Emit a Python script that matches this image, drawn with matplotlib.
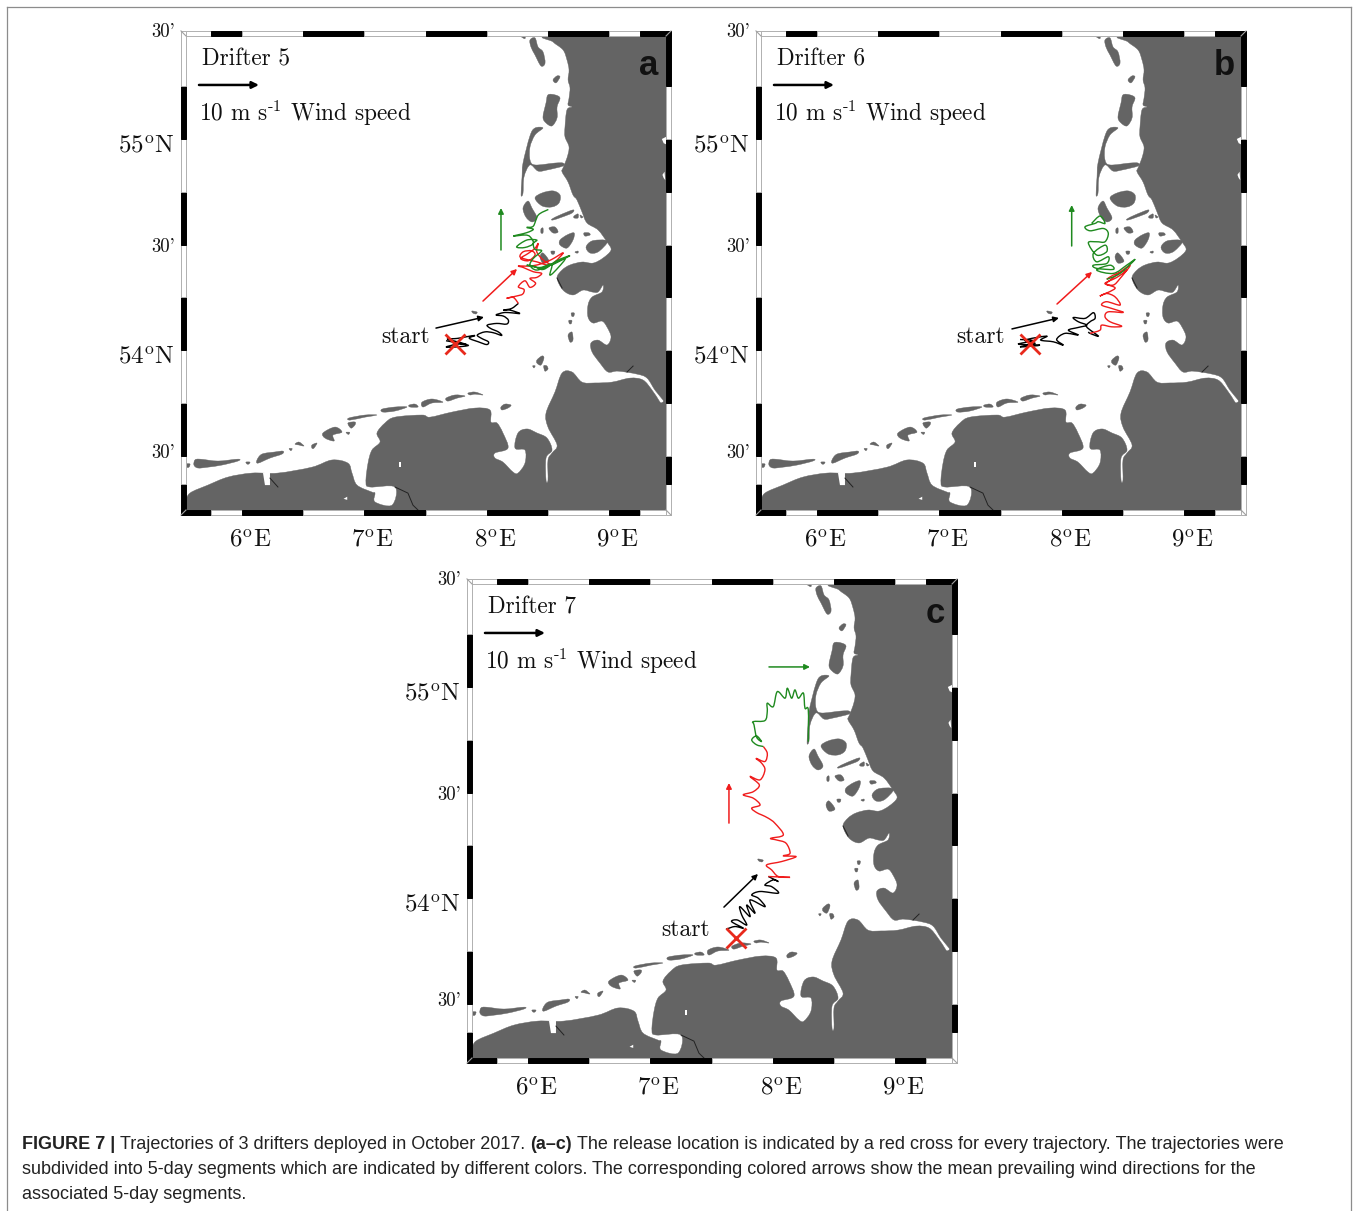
import matplotlib
matplotlib.use('Agg')
import matplotlib.pyplot as plt
from matplotlib.patches import Rectangle, PathPatch
from matplotlib.path import Path
from matplotlib.lines import Line2D

plt.rcParams['mathtext.fontset'] = 'cm'
plt.rcParams['axes.unicode_minus'] = False

# coast, digitised in degrees east / north
north_coast = [(8.517,55.488),(8.541,55.460),(8.623,55.422),(8.655,55.375),(8.672,55.327),(8.664,55.280),(8.680,55.242),
    (8.672,55.194),(8.664,55.161),(8.696,55.152),(8.655,55.138),(8.639,55.057),(8.639,55.010),(8.672,54.962),(8.655,54.910),
    (8.623,54.863),(8.615,54.844),(8.664,54.796),(8.704,54.735),(8.737,54.711),(8.778,54.654),(8.819,54.602),(8.909,54.569),
    (8.982,54.512),(9.015,54.474),(8.950,54.436),(8.868,54.412),(8.778,54.417),(8.680,54.403),(8.615,54.379),(8.574,54.341),
    (8.623,54.284),(8.704,54.261),(8.786,54.284),(8.860,54.275),(8.909,54.275),(8.950,54.308),(8.941,54.275),(8.860,54.251),
    (8.827,54.213),(8.827,54.156),(8.868,54.128),(8.941,54.137),(8.982,54.109),(9.015,54.062),(8.982,54.024),(8.909,54.047),
    (8.851,54.033),(8.860,53.991),(8.925,53.938),(8.990,53.896),(9.072,53.900),(9.227,53.886),(9.309,53.867),(9.374,53.810),
    (9.440,53.763),(9.464,53.739),(9.464,55.488)]
south_coast = [(9.464,53.706),(9.415,53.753),(9.350,53.810),(9.276,53.858),(9.170,53.867),(9.023,53.848),(8.884,53.844),(8.778,53.848),
    (8.696,53.896),(8.615,53.891),(8.557,53.801),(8.484,53.701),(8.500,53.635),(8.574,53.550),(8.533,53.512),(8.500,53.479),
    (8.500,53.384),(8.484,53.384),(8.484,53.488),(8.533,53.526),(8.492,53.583),(8.410,53.607),(8.329,53.626),(8.255,53.607),
    (8.231,53.535),(8.312,53.526),(8.312,53.464),(8.255,53.417),(8.214,53.422),(8.132,53.469),(8.067,53.488),(8.067,53.512),
    (8.173,53.535),(8.132,53.607),(8.084,53.654),(8.034,53.659),(8.026,53.716),(7.904,53.725),(7.716,53.706),(7.536,53.682),
    (7.471,53.692),(7.250,53.682),(7.168,53.654),(7.103,53.607),(7.128,53.564),(7.062,53.526),(7.030,53.464),(7.013,53.374),
    (7.046,53.351),(7.250,53.351),(7.226,53.265),(7.087,53.280),(7.087,53.322),(7.062,53.327),(6.940,53.360),(6.899,53.417),
    (6.866,53.464),(6.735,53.479),(6.572,53.445),(6.294,53.417),(6.082,53.417),(5.886,53.398),(5.722,53.360),(5.575,53.322),
    (5.543,53.280),(5.543,53.242),(9.464,53.242)]
islands = [
    [(5.543,53.460),(5.575,53.460),(5.567,53.445),(5.543,53.445)],
    [(5.616,53.479),(5.657,53.483),(5.804,53.474),(5.967,53.483),(5.967,53.474),(5.837,53.455),(5.722,53.445),(5.641,53.441),(5.608,53.455)],
    [(6.033,53.469),(6.065,53.469),(6.057,53.460),(6.041,53.460)],
    [(6.123,53.479),(6.164,53.507),(6.270,53.517),(6.335,53.521),(6.327,53.507),(6.229,53.488),(6.131,53.464)],
    [(6.385,53.533),(6.410,53.533),(6.400,53.523)],
    [(6.433,53.554),(6.466,53.564),(6.507,53.545),(6.466,53.550)],
    [(6.572,53.550),(6.613,53.559),(6.588,53.535),(6.572,53.535)],
    [(6.662,53.607),(6.760,53.635),(6.817,53.611),(6.744,53.597),(6.752,53.569),(6.678,53.583)],
    [(6.850,53.610),(6.880,53.610),(6.870,53.600)],
    [(6.866,53.654),(6.923,53.659),(6.923,53.645),(6.891,53.630)],
    [(6.874,53.678),(7.005,53.692),(7.103,53.692),(7.005,53.682),(6.883,53.668)],
    [(7.144,53.720),(7.250,53.730),(7.348,53.730),(7.250,53.711),(7.152,53.706)],
    [(7.365,53.739),(7.414,53.744),(7.438,53.730),(7.373,53.730)],
    [(7.471,53.753),(7.552,53.768),(7.642,53.753),(7.552,53.749),(7.479,53.730)],
    [(7.667,53.772),(7.740,53.787),(7.822,53.782),(7.757,53.772),(7.683,53.758)],
    [(7.847,53.796),(7.904,53.801),(7.969,53.787),(7.904,53.791),(7.863,53.787)],
    [(8.116,53.730),(8.149,53.744),(8.198,53.739),(8.173,53.725),(8.124,53.716)],
    [(7.879,54.185),(7.920,54.180),(7.912,54.171),(7.887,54.175)],
    [(8.690,54.175),(8.715,54.175),(8.710,54.160),(8.695,54.160)],
    [(8.670,54.140),(8.695,54.140),(8.690,54.125),(8.675,54.125)],
    [(8.664,54.071),(8.696,54.085),(8.704,54.047),(8.680,54.038)],
    [(8.410,53.953),(8.451,53.972),(8.467,53.962),(8.443,53.929),(8.410,53.938)],
    [(8.465,53.925),(8.490,53.925),(8.500,53.910),(8.475,53.900)],
    [(8.375,53.925),(8.395,53.925),(8.385,53.915)],
    [(8.270,55.490),(8.310,55.490),(8.310,55.475)],
    [(8.353,55.469),(8.394,55.479),(8.419,55.436),(8.459,55.413),(8.476,55.360),(8.443,55.346),(8.394,55.398),(8.361,55.436)],
    [(8.541,55.280),(8.574,55.299),(8.598,55.294),(8.566,55.266)],
    [(8.500,55.209),(8.557,55.209),(8.598,55.194),(8.574,55.152),(8.574,55.100),(8.533,55.062),(8.484,55.076),(8.459,55.104),(8.484,55.171)],
    [(8.394,55.052),(8.459,55.052),(8.394,55.019),(8.353,54.962),(8.353,54.901),(8.394,54.877),(8.557,54.886),(8.623,54.886),(8.623,54.872),
     (8.492,54.853),(8.419,54.848),(8.353,54.877),(8.304,54.820),(8.296,54.744),(8.280,54.735),(8.288,54.820),(8.296,54.886),(8.353,55.015)],
    [(8.394,54.720),(8.451,54.744),(8.541,54.754),(8.598,54.735),(8.590,54.697),(8.533,54.678),(8.451,54.683)],
    [(8.296,54.673),(8.337,54.706),(8.369,54.673),(8.410,54.626),(8.369,54.607),(8.320,54.630)],
    [(8.533,54.621),(8.598,54.640),(8.704,54.664),(8.696,54.649),(8.615,54.630),(8.541,54.616)],
    [(8.713,54.635),(8.745,54.645),(8.745,54.626),(8.713,54.626)],
    [(8.762,54.640),(8.786,54.630),(8.770,54.626)],
    [(8.443,54.574),(8.459,54.578),(8.459,54.555),(8.443,54.555)],
    [(8.508,54.578),(8.557,54.583),(8.582,54.559),(8.541,54.555)],
    [(8.598,54.521),(8.655,54.545),(8.713,54.555),(8.704,54.521),(8.655,54.483),(8.598,54.498)],
    [(8.794,54.555),(8.835,54.555),(8.843,54.545),(8.802,54.540)],
    [(8.811,54.488),(8.860,54.517),(8.966,54.521),(8.982,54.507),(8.909,54.465),(8.843,54.460)],
    [(8.721,54.465),(8.745,54.469),(8.745,54.460),(8.729,54.460)],
    [(8.525,54.468),(8.555,54.468),(8.550,54.455),(8.530,54.455)],
    [(8.459,54.460),(8.508,54.422),(8.459,54.412),(8.435,54.441)],
]
white_flecks = [
    [(6.172,53.417),(6.229,53.422),(6.229,53.360),(6.188,53.360)],
    [(7.280,53.470),(7.296,53.470),(7.296,53.445),(7.283,53.445)],
    [(6.830,53.295),(6.860,53.305),(6.860,53.290)],
    [(9.430,55.000),(9.464,55.010),(9.464,54.975),(9.445,54.980)],
    [(9.435,54.830),(9.452,54.845),(9.458,54.805),(9.445,54.815)],
]
dark_lines = [
    [(7.250,53.351),(7.356,53.322),(7.397,53.265),(7.438,53.242)],
    [(9.146,53.896),(9.195,53.924)],
    [(6.229,53.393),(6.294,53.351)],
    [(8.574,54.341),(8.615,54.294)],
]

# drifter tracks
track_5_black = [(7.667,54.044),(7.759,54.034),(7.849,54.022),(7.759,54.015),(7.667,54.014),(7.759,54.028),(7.836,54.026),(7.727,54.044),
    (7.678,54.052),(7.759,54.055),(7.836,54.063),(7.904,54.069),(7.857,54.056),(7.931,54.039),(7.999,54.026),(8.013,54.039),(7.958,54.055),
    (7.923,54.071),(7.985,54.086),(8.053,54.082),(8.122,54.069),(8.094,54.086),(8.032,54.102),(8.004,54.118),(8.081,54.126),(8.162,54.123),
    (8.176,54.142),(8.135,54.161),(8.075,54.166),(8.135,54.177),(8.190,54.177),(8.271,54.173),(8.190,54.189),(8.135,54.189),(8.203,54.197),(8.258,54.221)]
track_5_red = [(8.258,54.221),(8.217,54.249),(8.162,54.245),(8.244,54.256),(8.293,54.265),(8.304,54.287),(8.258,54.300),(8.312,54.328),
    (8.353,54.297),(8.399,54.316),(8.353,54.339),(8.408,54.344),(8.448,54.363),(8.380,54.371),(8.299,54.391),(8.258,54.398),(8.353,54.398),
    (8.435,54.407),(8.530,54.429),(8.625,54.461),(8.557,54.418),(8.503,54.402),(8.408,54.418),(8.326,54.429),(8.271,54.442),(8.299,54.466),
    (8.367,54.470),(8.394,54.450),(8.339,54.423),(8.277,54.434),(8.339,54.458),(8.394,54.482),(8.421,54.505),(8.408,54.466),(8.462,54.426),(8.530,54.402)]
track_5_green = [(8.530,54.402),(8.680,54.447),(8.571,54.423),(8.462,54.382),(8.380,54.398),(8.326,54.402),(8.435,54.391),(8.530,54.407),
    (8.516,54.355),(8.584,54.391),(8.639,54.434),(8.516,54.402),(8.408,54.379),(8.353,54.402),(8.380,54.434),(8.448,54.470),(8.394,54.477),
    (8.380,54.505),(8.408,54.521),(8.326,54.521),(8.244,54.489),(8.312,54.486),(8.380,54.505),(8.353,54.537),(8.312,54.545),(8.217,54.540),
    (8.326,54.556),(8.380,54.572),(8.326,54.581),(8.380,54.587),(8.421,54.640),(8.503,54.666)]

track_6_black = [(7.659,54.050),(7.768,54.044),(7.645,54.028),(7.822,54.023),(7.659,54.015),(7.781,54.031),(7.700,54.047),(7.877,54.066),
    (7.828,54.047),(7.931,54.039),(8.013,54.023),(7.958,54.050),(8.026,54.079),(8.135,54.071),(8.054,54.094),(8.135,54.107),(8.203,54.118),
    (8.135,54.134),(8.094,54.154),(8.190,54.150),(8.258,54.177),(8.272,54.150),(8.231,54.134),(8.203,54.110),(8.299,54.066),(8.231,54.079),(8.217,54.086)]
track_6_red = [(8.231,54.079),(8.312,54.094),(8.326,54.118),(8.408,54.110),(8.489,54.113),(8.394,54.134),(8.353,54.158),(8.380,54.181),
    (8.503,54.178),(8.408,54.197),(8.326,54.213),(8.367,54.229),(8.476,54.213),(8.435,54.252),(8.367,54.268),(8.312,54.256),(8.435,54.292),
    (8.367,54.312),(8.394,54.331),(8.557,54.402),(8.476,54.339),(8.421,54.308),(8.353,54.316),(8.449,54.344),(8.530,54.379),(8.421,54.355),(8.367,54.335)]
track_6_green = [(8.367,54.335),(8.476,54.363),(8.598,54.429),(8.530,54.402),(8.421,54.363),(8.285,54.379),(8.394,54.402),(8.421,54.382),
    (8.285,54.387),(8.258,54.402),(8.367,54.410),(8.380,54.442),(8.285,54.418),(8.258,54.458),(8.353,54.497),(8.367,54.466),(8.285,54.450),
    (8.217,54.508),(8.285,54.513),(8.353,54.513),(8.380,54.553),(8.339,54.576),(8.231,54.565),(8.190,54.584),(8.272,54.600),(8.299,54.608),
    (8.353,54.600),(8.312,54.635),(8.244,54.600)]

track_7_black = [(7.618,53.852),(7.691,53.865),(7.759,53.857),(7.664,53.888),(7.710,53.896),(7.787,53.872),(7.746,53.920),(7.732,53.959),
    (7.814,53.912),(7.787,53.967),(7.855,53.928),(7.814,53.991),(7.936,53.959),(7.882,53.999),(7.828,54.015),(7.896,54.031),(8.045,54.023),
    (7.991,54.054),(7.936,54.062),(8.004,54.086),(8.045,54.078),(7.964,54.102)]
track_7_red = [(7.964,54.102),(8.141,54.098),(8.045,54.102),(7.991,54.133),(7.950,54.157),(8.073,54.173),(8.190,54.196),(8.086,54.200),
    (8.141,54.212),(8.108,54.260),(8.032,54.275),(7.983,54.283),(8.086,54.299),(8.018,54.354),(7.964,54.378),(7.909,54.394),(7.868,54.405),
    (7.828,54.426),(7.896,54.441),(7.841,54.473),(7.759,54.489),(7.841,54.504),(7.890,54.536),(7.814,54.576),(7.896,54.560),(7.936,54.607),
    (7.909,54.639),(7.863,54.662),(7.936,54.647),(7.955,54.686),(7.923,54.718)]
track_7_green = [(7.923,54.718),(7.868,54.726),(7.828,54.749),(7.868,54.768),(7.909,54.741),(7.868,54.762),(7.847,54.820),(7.841,54.836),
    (7.936,54.841),(7.955,54.884),(7.955,54.923),(8.004,54.907),(8.037,54.978),(8.100,54.947),(8.119,54.994),(8.154,54.947),(8.181,54.986),
    (8.209,54.947),(8.250,54.971),(8.263,54.900),(8.290,54.892),(8.290,54.741)]

# wind arrows, tail then head, and the release points
wind_5 = [((7.585,54.104),(7.977,54.156)), ((7.969,54.232),(8.247,54.384)), ((8.116,54.474),(8.116,54.673))]
wind_6 = [((7.593,54.100),(7.977,54.152)), ((7.961,54.218),(8.247,54.370)), ((8.081,54.493),(8.081,54.687))]
wind_7 = [((7.601,53.957),(7.879,54.114)), ((7.642,54.355),(7.642,54.545)), ((7.969,55.095),(8.304,55.095))]
release_5 = (7.740, 54.028)
release_6 = (7.740, 54.028)
release_7 = (7.700, 53.810)
start_5 = (7.340, 54.061)
start_6 = (7.340, 54.061)
start_7 = (7.291, 53.848)

lon_labels = [(6, '6'), (7, '7'), (8, '8'), (9, '9')]
lat_labels = [(55, '55'), (54, '54')]
minute_labels = [55.507, 54.490, 53.510]
lon_breaks = [5.502, 5.75, 6.0, 6.5, 7.0, 7.5, 8.0, 8.5, 9.0, 9.25, 9.505]
lat_breaks = [53.218, 53.365, 53.5, 53.75, 54.0, 54.25, 54.5, 54.75, 55.0, 55.25, 55.512]

caption_1 = [('FIGURE 7 | ', 'bold'), ('Trajectories of 3 drifters deployed in October 2017. ', 'normal'), ('(a\u2013c)', 'bold'),
             (' The release location is indicated by a red cross for every trajectory. The trajectories were', 'normal')]
caption_2 = 'subdivided into 5-day segments which are indicated by different colors. The corresponding colored arrows show the mean prevailing wind directions for the'
caption_3 = 'associated 5-day segments.'

LAND = '#646464'
TRACK_COLORS = ['black', '#f01c1c', '#1f8a1f']
W, H = 1358, 1211
LON0, LON1 = 5.543, 9.464
LAT0, LAT1 = 53.242, 55.488


def xy(points):
    return [p[0] for p in points], [p[1] for p in points]


def round_path(points, closed=False):
    # bezier through the digitised points, the source lines are not straight pieces
    n = len(points)
    verts = [points[0]]
    codes = [Path.MOVETO]
    for i in range(n if closed else n - 1):
        p1, p2 = points[i], points[(i + 1) % n]
        p0 = points[(i - 1) % n] if closed or i > 0 else p1
        p3 = points[(i + 2) % n] if closed or i + 2 < n else p2
        verts.append((p1[0] + (p2[0] - p0[0]) / 6, p1[1] + (p2[1] - p0[1]) / 6))
        verts.append((p2[0] - (p3[0] - p1[0]) / 6, p2[1] - (p3[1] - p1[1]) / 6))
        verts.append(p2)
        codes += [Path.CURVE4] * 3
    return Path(verts, codes)


def draw_frame(ax):
    # fancy map border, 5 px wide round the axes
    lo_x, hi_x = lon_breaks[0], lon_breaks[-1]
    lo_y, hi_y = lat_breaks[0], lat_breaks[-1]
    for i in range(len(lon_breaks) - 1):
        a, b = lon_breaks[i], lon_breaks[i + 1]
        for y0, y1, black in [(lo_y, LAT0, i % 2 == 0), (LAT1, hi_y, i % 2 == 1)]:
            ax.add_patch(Rectangle((a, y0), b - a, y1 - y0, fc='black' if black else 'white',
                                   ec='black' if black else '#b0b0b0', lw=0.7, clip_on=False, zorder=8))
    for i in range(len(lat_breaks) - 1):
        a, b = lat_breaks[i], lat_breaks[i + 1]
        for x0, x1, black in [(lo_x, LON0, i % 2 == 0), (LON1, hi_x, i % 2 == 1)]:
            ax.add_patch(Rectangle((x0, a), x1 - x0, b - a, fc='black' if black else 'white',
                                   ec='black' if black else '#b0b0b0', lw=0.7, clip_on=False, zorder=8))
    for cx, cy, ix, iy in [(lo_x, lo_y, LON0, LAT0), (lo_x, hi_y, LON0, LAT1), (hi_x, lo_y, LON1, LAT0), (hi_x, hi_y, LON1, LAT1)]:
        ax.plot([cx, ix], [cy, iy], color='#a0a0a0', lw=0.8, clip_on=False, zorder=9)


def draw_panel(left, top, letter, drifter, tracks, wind, release, start):
    ax = fig.add_axes([left / W, 1 - (top + 474) / H, 480 / W, 474 / H])
    ax.set_xlim(LON0, LON1)
    ax.set_ylim(LAT0, LAT1)
    ax.axis('off')

    for shape in [north_coast, south_coast] + islands:
        ax.add_patch(PathPatch(round_path(shape, closed=True), fc=LAND, ec=LAND, lw=0.3))
    for fleck in white_flecks:
        ax.fill(*xy(fleck), color='white', lw=0)
    for line in dark_lines:
        ax.plot(*xy(line), color='#222222', lw=0.7)

    for track, col in zip(tracks, TRACK_COLORS):
        ax.add_patch(PathPatch(round_path(track), fc='none', ec=col, lw=1.0, zorder=4))
    for (tail, head), col in zip(wind, TRACK_COLORS):
        ax.annotate('', xy=head, xytext=tail, zorder=5,
                    arrowprops=dict(arrowstyle='-|>', color=col, lw=1.1, mutation_scale=8, shrinkA=0, shrinkB=0))
    ax.plot(*release, marker='x', ms=14, mew=2, color='#e8291c', zorder=6)

    draw_frame(ax)

    serif = dict(family='cmr10', color='#111111', clip_on=False)
    ax.text(5.673, 55.375, drifter, fontsize=16.8, va='center', **serif)
    ax.annotate('', xy=(6.139, 55.256), xytext=(5.649, 55.256),
                arrowprops=dict(arrowstyle='-|>', color='black', lw=1.8, mutation_scale=10, shrinkA=0, shrinkB=0))
    ax.text(5.650, 55.124, r'10 m s$^{\text{-1}}$ Wind speed', fontsize=16.8, va='center', **serif)
    ax.text(start[0], start[1], 'start', fontsize=17, ha='center', va='center', **serif)
    ax.text(9.325, 55.350, letter, family='Liberation Sans', weight='bold', fontsize=25, ha='center', va='center', color='#111111')

    for lon, lab in lon_labels:
        ax.text(lon + 0.065, 53.095, r'$\mathrm{%s^{o}E}$' % lab, fontsize=18, ha='center', va='center', **serif)
    for lat, lab in lat_labels:
        ax.text(5.445, lat - 0.039, r'$\mathrm{%s^{o}N}$' % lab, fontsize=18, ha='right', va='center', **serif)
    for lat in minute_labels:
        ax.text(5.453, lat, "30'", fontsize=13.5, ha='right', va='center', **serif)


fig = plt.figure(figsize=(W / 100, H / 100), dpi=100)

# page border of the source sheet
for xs, ys in [((7, 7), (7, H)), ((7, 1351), (7, 7)), ((1351, 1351), (7, H))]:
    fig.add_artist(Line2D([x / W for x in xs], [1 - y / H for y in ys], color='#8c8c8c', lw=0.9))

draw_panel(186, 36, 'a', 'Drifter 5', [track_5_black, track_5_red, track_5_green], wind_5, release_5, start_5)
draw_panel(761, 36, 'b', 'Drifter 6', [track_6_black, track_6_red, track_6_green], wind_6, release_6, start_6)
draw_panel(472, 584, 'c', 'Drifter 7', [track_7_black, track_7_red, track_7_green], wind_7, release_7, start_7)

# caption, first line has bold runs so place them one after the other
cap = dict(family='Liberation Sans', fontsize=13, color='#222222', va='center')
renderer = fig.canvas.get_renderer()
x_px = 22
for chunk, weight in caption_1:
    t = fig.text(x_px / W, 1 - 1144.5 / H, chunk, weight=weight, **cap)
    t.set_text(chunk.replace(' ', '\u00a0'))
    x_px += t.get_window_extent(renderer).width
fig.text(22 / W, 1 - 1169 / H, caption_2, **cap)
fig.text(22 / W, 1 - 1194.5 / H, caption_3, **cap)

plt.savefig('out.png', dpi=100)
